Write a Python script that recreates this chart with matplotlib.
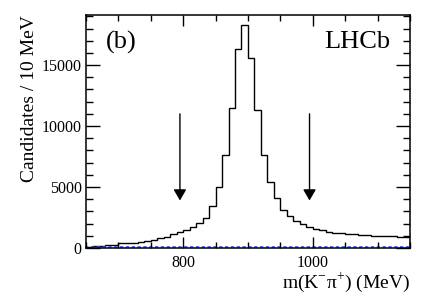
import numpy as np
import matplotlib.pyplot as plt
from matplotlib.ticker import MultipleLocator

plt.rcParams['font.family'] = ['Liberation Serif', 'DejaVu Serif']
plt.rcParams['mathtext.fontset'] = 'custom'
plt.rcParams['mathtext.rm'] = 'Liberation Serif'

# bin edges in MeV, 10 MeV bins
bin_edges = np.arange(650, 1151, 10)

candidates = [
    110, 150, 190, 230, 280, 380, 410, 450, 490, 540,
    660, 790, 930, 1130, 1300, 1475, 1750, 2070, 2490, 3450,
    5000, 7600, 11500, 16300, 18300, 15600, 11300, 7600, 5400, 4100,
    3100, 2650, 2250, 1950, 1750, 1580, 1475, 1290, 1250, 1240,
    1150, 1140, 1060, 1040, 1020, 1000, 980, 960, 900, 880,
]

background = [80] * len(candidates)

# mass window cuts
cut_positions = [795, 995]
arrow_top = 11000
arrow_tip = 3900

fig = plt.figure(figsize=(4.32, 2.96), dpi=100)
ax = fig.add_axes([0.199, 0.162, 0.750, 0.787])

ax.stairs(candidates, bin_edges, color='black', lw=1.0)
ax.stairs(background, bin_edges, color='#3355ee', lw=1.2, linestyle=(0, (2, 1.5)))

for xc in cut_positions:
    ax.annotate('', xy=(xc, arrow_tip), xytext=(xc, arrow_top),
                arrowprops=dict(arrowstyle='-|>,head_length=0.6,head_width=0.35',
                                mutation_scale=11, color='black', lw=1.0,
                                shrinkA=0, shrinkB=0))

ax.set_xlim(650, 1150)
ax.set_ylim(0, 19100)

ax.xaxis.set_major_locator(MultipleLocator(200))
ax.xaxis.set_minor_locator(MultipleLocator(50))
ax.yaxis.set_major_locator(MultipleLocator(5000))
ax.yaxis.set_minor_locator(MultipleLocator(1000))

ax.tick_params(which='both', direction='in', top=True, right=True,
               labelsize=11.5, width=1.0)
ax.tick_params(axis='y', which='major', length=10, pad=3)
ax.tick_params(axis='y', which='minor', length=5)
ax.tick_params(axis='x', which='major', length=8, pad=5)
ax.tick_params(axis='x', which='minor', length=4)

for s in ax.spines.values():
    s.set_linewidth(1.1)

ax.set_xlabel(r'm(K$^{\mathregular{-}}$π$^{\mathregular{+}}$) (MeV)', fontsize=14, loc='right')
ax.xaxis.set_label_coords(1.0, -0.097)
ax.set_ylabel('Candidates / 10 MeV', fontsize=14, loc='top', labelpad=2.5)

ax.text(0.06, 0.93, '(b)', transform=ax.transAxes, fontsize=19, va='top', ha='left')
ax.text(0.94, 0.93, 'LHCb', transform=ax.transAxes, fontsize=19, va='top', ha='right')

fig.savefig('out.png', dpi=100)
